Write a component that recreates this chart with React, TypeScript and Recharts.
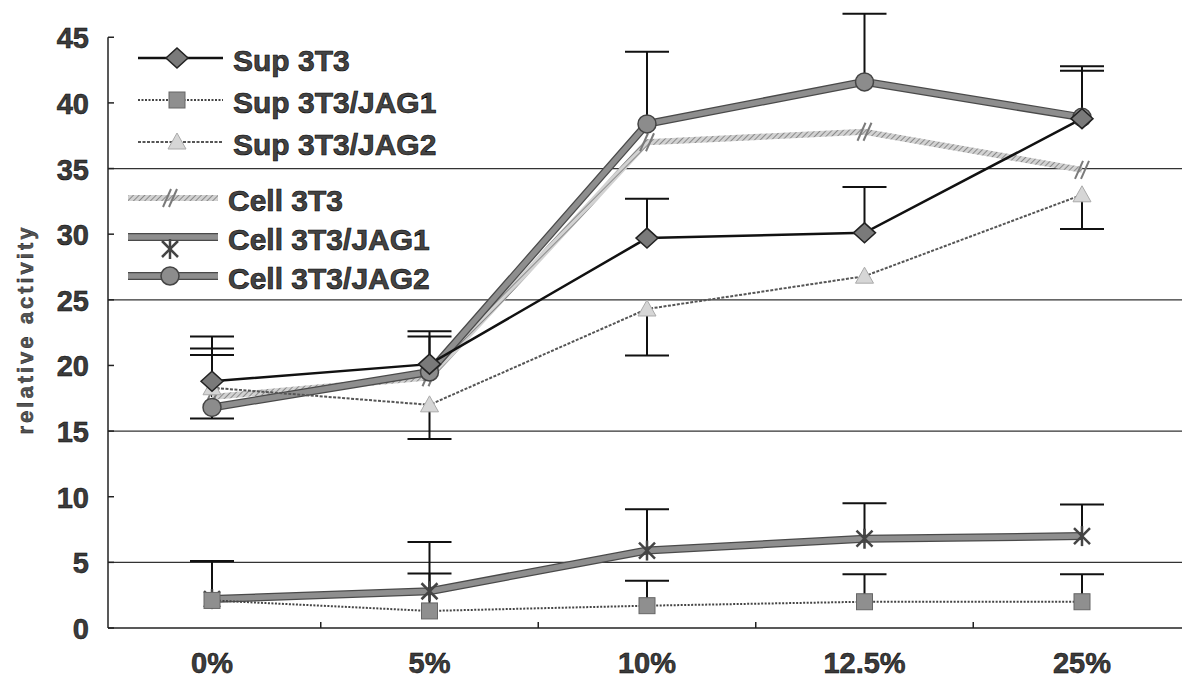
import React from 'react';
import { LineChart, Line, XAxis, YAxis, ErrorBar, ReferenceLine, Legend } from 'recharts';

const categories = ['0%', '5%', '10%', '12.5%', '25%'];

// mean values
const sup3T3 = [18.8, 20.1, 29.7, 30.1, 38.8];
const sup3T3Jag1 = [2.1, 1.3, 1.7, 2.0, 2.0];
const sup3T3Jag2 = [18.3, 17.0, 24.3, 26.8, 33.0];
const cell3T3 = [17.6, 19.1, 37.0, 37.8, 34.9];
const cell3T3Jag1 = [2.2, 2.8, 5.9, 6.8, 7.0];
const cell3T3Jag2 = [16.8, 19.5, 38.4, 41.6, 38.9];

// one-sided error bars: positive = drawn up, negative = drawn down, 0 = none
const sup3T3Err = [3.4, 2.5, 3.0, 3.5, 4.0];
const sup3T3Jag1Err = [3.0, 2.85, 1.9, 2.1, 2.1];
const sup3T3Jag2Err = [3.0, -2.6, -3.55, 0, -2.6];
const cell3T3Err = [3.2, 0, 0, 0, 0];
const cell3T3Jag1Err = [2.9, 3.75, 3.15, 2.7, 2.4];
const cell3T3Jag2Err = [-0.85, 2.7, 5.5, 5.2, 3.55];

const yTicks = [0, 5, 10, 15, 20, 25, 30, 35, 40, 45];
const gridValues = [5, 15, 25, 35];

const W = 1182;
const H = 680;
const AXIS_W = 108;
const PAD_L = 104;
const PAD_R = 100;
const HALF_STEP = (W - AXIS_W - PAD_L - PAD_R) / (categories.length - 1) / 2;
const FONT = '"Liberation Sans", Arial, Helvetica, sans-serif';

const series = [
  { key: 'sup', name: 'Sup 3T3', values: sup3T3, errs: sup3T3Err, stroke: '#111', width: 2.5, dash: undefined, edge: null, marker: 'diamond', group: 'sup' },
  { key: 'supJ1', name: 'Sup 3T3/JAG1', values: sup3T3Jag1, errs: sup3T3Jag1Err, stroke: '#444', width: 2, dash: '2 1.5', edge: null, marker: 'square', group: 'sup' },
  { key: 'supJ2', name: 'Sup 3T3/JAG2', values: sup3T3Jag2, errs: sup3T3Jag2Err, stroke: '#555', width: 2, dash: '3 1.5', edge: null, marker: 'triangle', group: 'sup' },
  { key: 'cell', name: 'Cell 3T3', values: cell3T3, errs: cell3T3Err, stroke: 'url(#hatch)', width: 6, dash: undefined, edge: null, marker: 'slash', group: 'cell' },
  { key: 'cellJ1', name: 'Cell 3T3/JAG1', values: cell3T3Jag1, errs: cell3T3Jag1Err, stroke: '#8e8e8e', width: 5.5, dash: undefined, edge: '#4a4a4a', marker: 'star', group: 'cell' },
  { key: 'cellJ2', name: 'Cell 3T3/JAG2', values: cell3T3Jag2, errs: cell3T3Jag2Err, stroke: '#8e8e8e', width: 5.5, dash: undefined, edge: '#4a4a4a', marker: 'circle', group: 'cell' },
];

const drawOrder = ['cell', 'cellJ1', 'cellJ2', 'supJ2', 'supJ1', 'sup'];

const data = categories.map((cat, i) => {
  const row: Record<string, any> = { cat };
  series.forEach((s) => {
    const e = s.errs[i];
    row[s.key] = s.values[i];
    row[s.key + 'Err'] = e > 0 ? [0, e] : [-e, 0];
    row[s.key + 'Cap'] = e === 0 ? null : s.values[i] + e;
  });
  return row;
});

function HatchDefs() {
  return (
    <defs>
      <pattern id="hatch" patternUnits="userSpaceOnUse" width={4} height={4} patternTransform="rotate(45)">
        <rect width={4} height={4} fill="#d2d2d2" />
        <line x1={0} y1={0} x2={0} y2={4} stroke="#777" strokeWidth={1.6} />
      </pattern>
    </defs>
  );
}

function Marker({ kind, cx, cy }: { kind: string; cx: number; cy: number }) {
  if (cx == null || cy == null) return <g />;
  switch (kind) {
    case 'diamond':
      return <polygon points={`${cx - 11},${cy} ${cx},${cy - 10} ${cx + 11},${cy} ${cx},${cy + 10}`} fill="#7a7a7a" stroke="#222" strokeWidth={1.5} />;
    case 'square':
      return <rect x={cx - 8} y={cy - 8} width={16} height={16} fill="#8f8f8f" stroke="#666" strokeWidth={1} />;
    case 'triangle':
      return <polygon points={`${cx - 9},${cy + 7} ${cx},${cy - 9} ${cx + 9},${cy + 7}`} fill="#d6d6d6" stroke="#aaa" strokeWidth={1} />;
    case 'slash':
      return (
        <g stroke="#7a7a7a" strokeWidth={2}>
          <line x1={cx - 7} y1={cy + 9} x2={cx + 1} y2={cy - 9} />
          <line x1={cx - 1} y1={cy + 9} x2={cx + 7} y2={cy - 9} />
        </g>
      );
    case 'star':
      return (
        <g stroke="#444" strokeWidth={2.5}>
          <line x1={cx - 8} y1={cy - 8} x2={cx + 8} y2={cy + 8} />
          <line x1={cx - 8} y1={cy + 8} x2={cx + 8} y2={cy - 8} />
          <line x1={cx} y1={cy - 10} x2={cx} y2={cy + 10} />
        </g>
      );
    case 'circle':
      return <circle cx={cx} cy={cy} r={9} fill="#8c8c8c" stroke="#444" strokeWidth={1.5} />;
    default:
      return <g />;
  }
}

function XTick(props: any) {
  const { x, y, payload, index } = props;
  return (
    <g>
      <text x={x} y={y + 45} textAnchor="middle" fontFamily={FONT} fontWeight="bold" fontSize={29} fill="#3c3c3c" stroke="#000" strokeWidth={0.5}>
        {payload.value}
      </text>
      {index < categories.length - 1 && <line x1={x + HALF_STEP} x2={x + HALF_STEP} y1={y} y2={y - 6} stroke="#222" strokeWidth={1.5} />}
    </g>
  );
}

function YTick(props: any) {
  const { x, y, payload } = props;
  return (
    <g>
      <text x={x - 19} y={y + 11} textAnchor="end" fontFamily={FONT} fontWeight="bold" fontSize={29} fill="#3c3c3c" stroke="#000" strokeWidth={0.5}>
        {payload.value}
      </text>
      <line x1={x} x2={x + 6} y1={y} y2={y} stroke="#222" strokeWidth={1.5} />
    </g>
  );
}

function YLabel(props: any) {
  const { x, y, height } = props.viewBox;
  const cx = x + 25;
  const cy = y + height / 2 + 10;
  return (
    <text x={cx} y={cy} transform={`rotate(-90 ${cx} ${cy})`} textAnchor="middle" dominantBaseline="central" fontFamily={FONT} fontWeight="bold" fontSize={22} letterSpacing={3} fill="#555" stroke="#111" strokeWidth={0.4}>
      relative activity
    </text>
  );
}

function LegendRow({ s, lineW, markerX, height, padLeft }: any) {
  const my = s.marker === 'star' ? 27 : 15;
  return (
    <div style={{ display: 'flex', alignItems: 'center', height, paddingLeft: padLeft }}>
      <svg width={lineW} height={36} style={{ overflow: 'visible' }}>
        {s.edge && <line x1={0} x2={lineW} y1={15} y2={15} stroke={s.edge} strokeWidth={s.width + 2.5} />}
        <line x1={0} x2={lineW} y1={15} y2={15} stroke={s.stroke} strokeWidth={s.width} strokeDasharray={s.dash} />
        <Marker kind={s.marker} cx={markerX} cy={my} />
      </svg>
      <span style={{ marginLeft: 10, whiteSpace: 'nowrap' }}>{s.name}</span>
    </div>
  );
}

function LegendBox() {
  const sup = series.filter((s) => s.group === 'sup');
  const cell = series.filter((s) => s.group === 'cell');
  return (
    <div style={{ fontFamily: FONT, fontWeight: 'bold', fontSize: 30, color: '#444', WebkitTextStroke: '0.6px #000', lineHeight: 1 }}>
      {sup.map((s) => (
        <LegendRow key={s.key} s={s} lineW={85} markerX={39} height={42} padLeft={10} />
      ))}
      <div style={{ height: 15 }} />
      {cell.map((s) => (
        <LegendRow key={s.key} s={s} lineW={90} markerX={42} height={39} padLeft={0} />
      ))}
    </div>
  );
}

export default function App() {
  const ordered = drawOrder.map((k) => series.find((s) => s.key === k)!);
  const lines: React.ReactElement[] = [];
  ordered.forEach((s) => {
    if (s.edge) {
      lines.push(
        <Line
          key={s.key + 'Edge'}
          dataKey={s.key}
          stroke={s.edge}
          strokeWidth={s.width + 2.5}
          dot={false}
          activeDot={false}
          legendType="none"
          isAnimationActive={false}
        />
      );
    }
    lines.push(
      <Line
        key={s.key}
        dataKey={s.key}
        name={s.name}
        stroke={s.stroke}
        strokeWidth={s.width}
        strokeDasharray={s.dash}
        activeDot={false}
        isAnimationActive={false}
        dot={(p: any) => <Marker key={`${s.key}-${p.index}`} kind={s.marker} cx={p.cx} cy={p.cy} />}
      >
        <ErrorBar dataKey={s.key + 'Err'} direction="y" width={0} stroke="#111" strokeWidth={2} />
      </Line>
    );
  });
  return (
    <div style={{ position: 'absolute', left: 0, top: 0, width: W, height: H, background: '#fff' }}>
      <svg width={0} height={0} style={{ position: 'absolute' }}>
        <HatchDefs />
      </svg>
      <LineChart width={W} height={H} data={data} margin={{ top: 11, right: 0, bottom: 2, left: 0 }}>
        <XAxis
          dataKey="cat"
          height={50}
          padding={{ left: PAD_L, right: PAD_R }}
          axisLine={{ stroke: '#222', strokeWidth: 1.5 }}
          tickLine={false}
          tickSize={0}
          tickMargin={0}
          interval={0}
          tick={<XTick />}
        />
        <XAxis xAxisId="frame" type="number" domain={[0, 1]} hide />
        <YAxis
          type="number"
          domain={[0, 47]}
          ticks={yTicks}
          interval={0}
          width={AXIS_W}
          axisLine={false}
          tickLine={false}
          tickSize={0}
          tickMargin={0}
          tick={<YTick />}
          label={{ content: <YLabel /> }}
        />
        {gridValues.map((v) => (
          <ReferenceLine key={v} y={v} stroke="#333" strokeWidth={1.3} />
        ))}
        <ReferenceLine xAxisId="frame" segment={[{ x: 0, y: 0 }, { x: 0, y: 45 }]} stroke="#222" strokeWidth={1.5} />
        {lines}
        {ordered.map((s) => (
          <Line
            key={s.key + 'Cap'}
            dataKey={s.key + 'Cap'}
            stroke="none"
            legendType="none"
            activeDot={false}
            isAnimationActive={false}
            dot={(p: any) =>
              p.value == null || p.cy == null ? (
                <g key={`${s.key}-cap-${p.index}`} />
              ) : (
                <line key={`${s.key}-cap-${p.index}`} x1={p.cx - 22} x2={p.cx + 22} y1={p.cy} y2={p.cy} stroke="#111" strokeWidth={2} />
              )
            }
          />
        ))}
        <Legend
          layout="vertical"
          align="center"
          verticalAlign="middle"
          wrapperStyle={{ top: 40, left: 128, width: 460 }}
          content={() => <LegendBox />}
        />
      </LineChart>
    </div>
  );
}
